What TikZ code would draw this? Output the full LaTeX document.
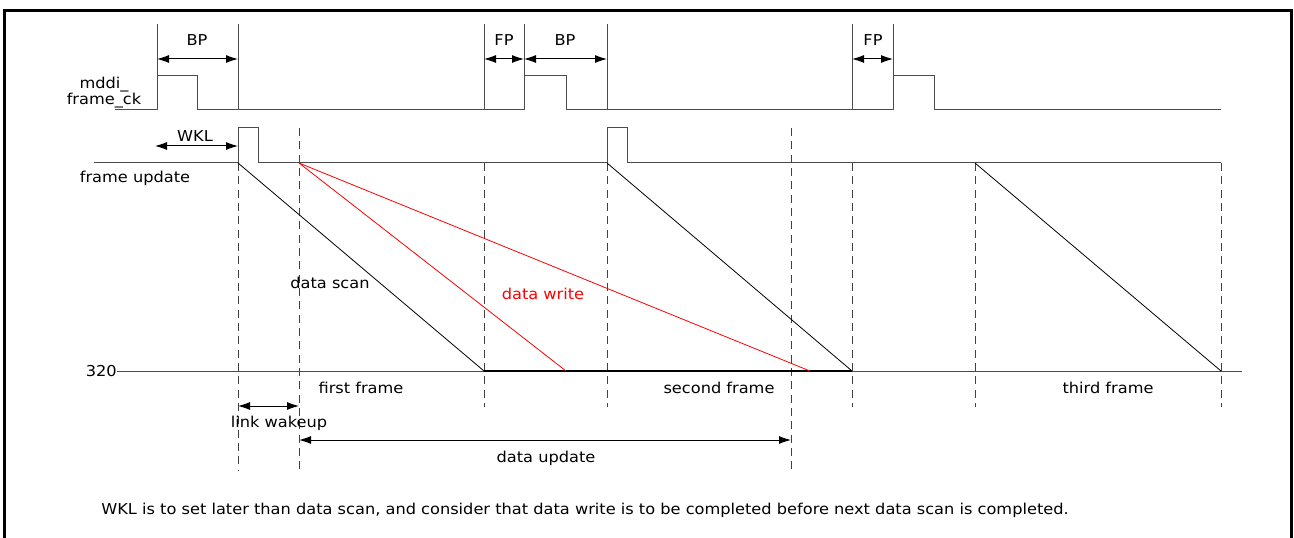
\documentclass[tikz,border=0pt]{standalone}
\usepackage{fontspec}
\setmainfont{DejaVu Sans}[FakeStretch=1.08]
\usetikzlibrary{arrows.meta}

\begin{document}
\begin{tikzpicture}[
  x=0.75pt, y=-0.75pt,
  wave/.style={draw=black!70, line width=0.75pt},
  scanline/.style={draw=black, line width=0.6pt},
  writeline/.style={draw=red, line width=0.6pt},
  guide/.style={draw=black!75, line width=0.75pt, dash pattern=on 6pt off 4pt},
  span/.style={draw=black, line width=0.75pt, {Latex[length=9pt,width=6pt]}-{Latex[length=9pt,width=6pt]}},
  lbl/.style={font=\fontsize{11.25}{13}\selectfont, inner sep=0pt, anchor=base},
  redlbl/.style={lbl, text=red}
]
\useasboundingbox (0,0) rectangle (1294,538);
\draw[line width=2.25pt] (4.5,538) -- (4.5,11) -- (1291,11) -- (1291,538);

% mddi_frame_ck
\draw[wave] (115,110) -- (157,110) -- (157,76) -- (197,76) -- (197,110) -- (524,110) -- (524,76)
  -- (566,76) -- (566,110) -- (893,110) -- (893,76) -- (934,76) -- (934,110) -- (1221,110);
\draw[wave] (157,24) -- (157,76);
\draw[wave] (238,24) -- (238,110);
\draw[wave] (484,24) -- (484,110);
\draw[wave] (524,24) -- (524,76);
\draw[wave] (607,24) -- (607,110);
\draw[wave] (852,24) -- (852,110);
\draw[wave] (893,24) -- (893,76);

% frame update
\draw[wave] (94,163) -- (238,163) -- (238,128) -- (258,128) -- (258,163) -- (607,163) -- (607,128)
  -- (627,128) -- (627,163) -- (1221,163);

\draw[guide] (238,163) -- (238,470);
\draw[guide] (299,128) -- (299,472);
\draw[guide] (484,163) -- (484,407);
\draw[guide] (607,163) -- (607,407);
\draw[guide] (791,128) -- (791,472);
\draw[guide] (852,163) -- (852,407);
\draw[guide] (975,163) -- (975,407);
\draw[guide] (1221,163) -- (1221,407);

\draw[wave] (117,371) -- (1242,371);
\draw[scanline, line width=1pt] (484,371) -- (852,371);

\coordinate (scanA) at (238,163);
\coordinate (scanB) at (607,163);
\coordinate (scanC) at (975,163);
\coordinate (endA) at (484,371);
\coordinate (endB) at (852,371);
\coordinate (endC) at (1221,371);
\coordinate (wrS) at (299,163);
\coordinate (wrA) at (566,371);
\coordinate (wrB) at (810,371);

\draw[scanline] (scanA) -- (endA);
\draw[scanline] (scanB) -- (endB);
\draw[scanline] (scanC) -- (endC);
\draw[writeline] (wrS) -- (wrA);
\draw[writeline] (wrS) -- (wrB);

\coordinate (bp1L) at (157,59);
\coordinate (bp1R) at (238,59);
\coordinate (fp1L) at (484,59);
\coordinate (fp1R) at (524,59);
\coordinate (bp2R) at (607,59);
\coordinate (fp2L) at (852,59);
\coordinate (fp2R) at (893,59);
\coordinate (wklL) at (155,146);
\coordinate (wklR) at (238,146);
\coordinate (wkupL) at (238,406);
\coordinate (wkupR) at (299,406);
\coordinate (updL) at (299,440);
\coordinate (updR) at (791,440);

\draw[span] (bp1L) -- (bp1R);
\draw[span] (fp1L) -- (fp1R);
\draw[span] (fp1R) -- (bp2R);
\draw[span] (fp2L) -- (fp2R);
\draw[span] (wklL) -- (wklR);
\draw[span] (wkupL) -- (wkupR);
\draw[span] (updL) -- (updR);

\node[lbl] (bp1) at (197,46) {BP};
\node[lbl] (fp1) at (504,46) {FP};
\node[lbl] (bp2) at (565,46) {BP};
\node[lbl] (fp2) at (873,46) {FP};
\node[lbl] (ck1) at (104,89) {mddi\_};
\node[lbl] (ck2) at (104,105) {frame\_ck};
\node[lbl] (wkl) at (195,142) {WKL};
\node[lbl] (fu) at (135,183) {frame update};
\node[lbl] (scan) at (330,288) {data scan};
\node[redlbl] (write) at (543,299) {data write};
\node[lbl, anchor=base east] (line320) at (117,376) {320};
\node[lbl] (first) at (361,393) {first frame};
\node[lbl] (second) at (719,393) {second frame};
\node[lbl] (third) at (1108,393) {third frame};
\node[lbl] (wkup) at (279,427) {link wakeup};
\node[lbl] (upd) at (546,462) {data update};
\node[lbl] (note) at (585,514) {WKL is to set later than data scan, and consider that data write is to be completed before next data scan is completed.};

\end{tikzpicture}
\end{document}
